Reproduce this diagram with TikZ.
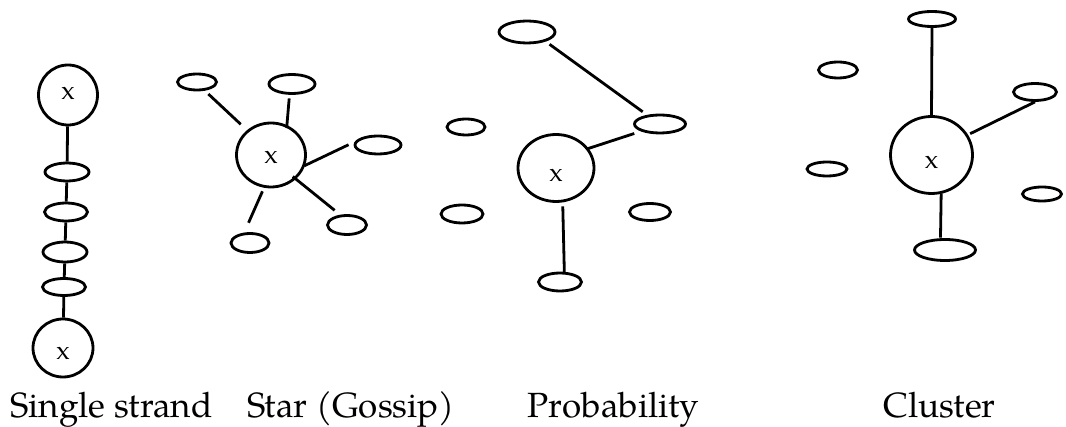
\documentclass[tikz,border=0pt]{standalone}
\usepackage{fontspec}
\setmainfont{TeX Gyre Pagella}
\usetikzlibrary{shapes.geometric}
\tikzset{
  ln/.style={line width=2.8pt},
  ov/.style 2 args={draw, ellipse, line width=2.8pt, inner sep=0pt,
    minimum width=#1pt, minimum height=#2pt},
  lbl/.style={font=\fontsize{35}{40}\selectfont, anchor=base, inner sep=0pt},
  xl/.style={font=\fontsize{26}{28}\selectfont, inner sep=0pt},
}
\begin{document}
\begin{tikzpicture}[x=1pt,y=-1pt]
\useasboundingbox (0,0) rectangle (1066,427);
% ---- Single strand
\node[ov={59}{60}, label={[xl,yshift=1.7pt]center:x}] (s1) at (68,95) {};
\node[ov={44}{18}] (s2) at (67,172) {};
\node[ov={43}{18}] (s3) at (66,212) {};
\node[ov={44}{20}] (s4) at (65,252) {};
\node[ov={43}{17}] (s5) at (64,287) {};
\node[ov={60}{58}, label={[xl,yshift=-5.5pt]center:x}] (s6) at (63,348) {};
\draw[ln] (s1) -- (s2);
\draw[ln] (s2) -- (s3);
\draw[ln] (s3) -- (s4);
\draw[ln] (s4) -- (s5);
\draw[ln] (s5) -- (s6);
% ---- Star
\node[ov={69}{64}, label={[xl,yshift=-2.3pt]center:x}] (c2) at (271,155) {};
\node[ov={39}{16}] (a1) at (197,82) {};
\node[ov={46}{19}] (a2) at (292,84) {};
\node[ov={46}{18}] (a3) at (378,145) {};
\node[ov={39}{19}] (a4) at (347,225) {};
\node[ov={38}{19}] (a5) at (250,243) {};
\draw[ln, shorten <=4.8pt, shorten >=8.6pt] (a1.-48) -- (c2.134);
\draw[ln, shorten <=3.6pt, shorten >=-3pt] (a2.-103) -- (c2.62);
\draw[ln, shorten <=7pt, shorten >=-1pt] (a3.172) -- (c2.-17);
\draw[ln, shorten <=7pt, shorten >=-4pt] (a4.124) -- (c2.-44);
\draw[ln, shorten <=10.7pt, shorten >=3.9pt] (a5.119) -- (c2.-102);
% ---- Probability
\node[ov={76}{67}, label={[xl,yshift=-7pt]center:x}] (c3) at (556,168) {};
\node[ov={56}{22}] (b1) at (527,32) {};
\node[ov={51}{18}] (b2) at (660,124) {};
\node[ov={38}{16}] (b3) at (466,127) {};
\node[ov={42}{18}] (b4) at (462,214) {};
\node[ov={41}{17}] (b5) at (650,212) {};
\node[ov={43}{18}] (b6) at (560,282) {};
\draw[ln, shorten <=4.7pt, shorten >=5.3pt] (b1.-27.6) -- (b2.145.5);
\draw[ln, shorten <=7pt, shorten >=-1.7pt] (b2.-159.4) -- (c3.31);
\draw[ln, shorten <=4pt, shorten >=-2pt] (c3.-79) -- (b6.67);
% ---- Cluster
\node[ov={82}{77}, label={[xl,yshift=-7.7pt]center:x}] (c4) at (931.5,155) {};
\node[ov={47}{15}] (d1) at (932,19) {};
\node[ov={39}{16}] (d2) at (838,70) {};
\node[ov={43}{17}] (d3) at (1035,92) {};
\node[ov={40}{14}] (d4) at (827,169) {};
\node[ov={39}{14}] (d5) at (1042,194) {};
\node[ov={61}{21}] (d6) at (945,250) {};
\draw[ln, shorten >=-1.5pt] (d1.south) -- (c4.north);
\draw[ln, shorten <=2.4pt] (c4.29) -- (d3.south);
\draw[ln, shorten <=-0.4pt, shorten >=0.5pt] (c4.-76) -- (d6.111);
% ---- Labels
\node[lbl] (L1) at (111.5,418) {Single strand};
\node[lbl] (L2) at (351,418) {Star (Gossip)};
\node[lbl] (L3) at (613.5,418) {Probability};
\node[lbl] (L4) at (939.5,418) {Cluster};
\end{tikzpicture}
\end{document}
